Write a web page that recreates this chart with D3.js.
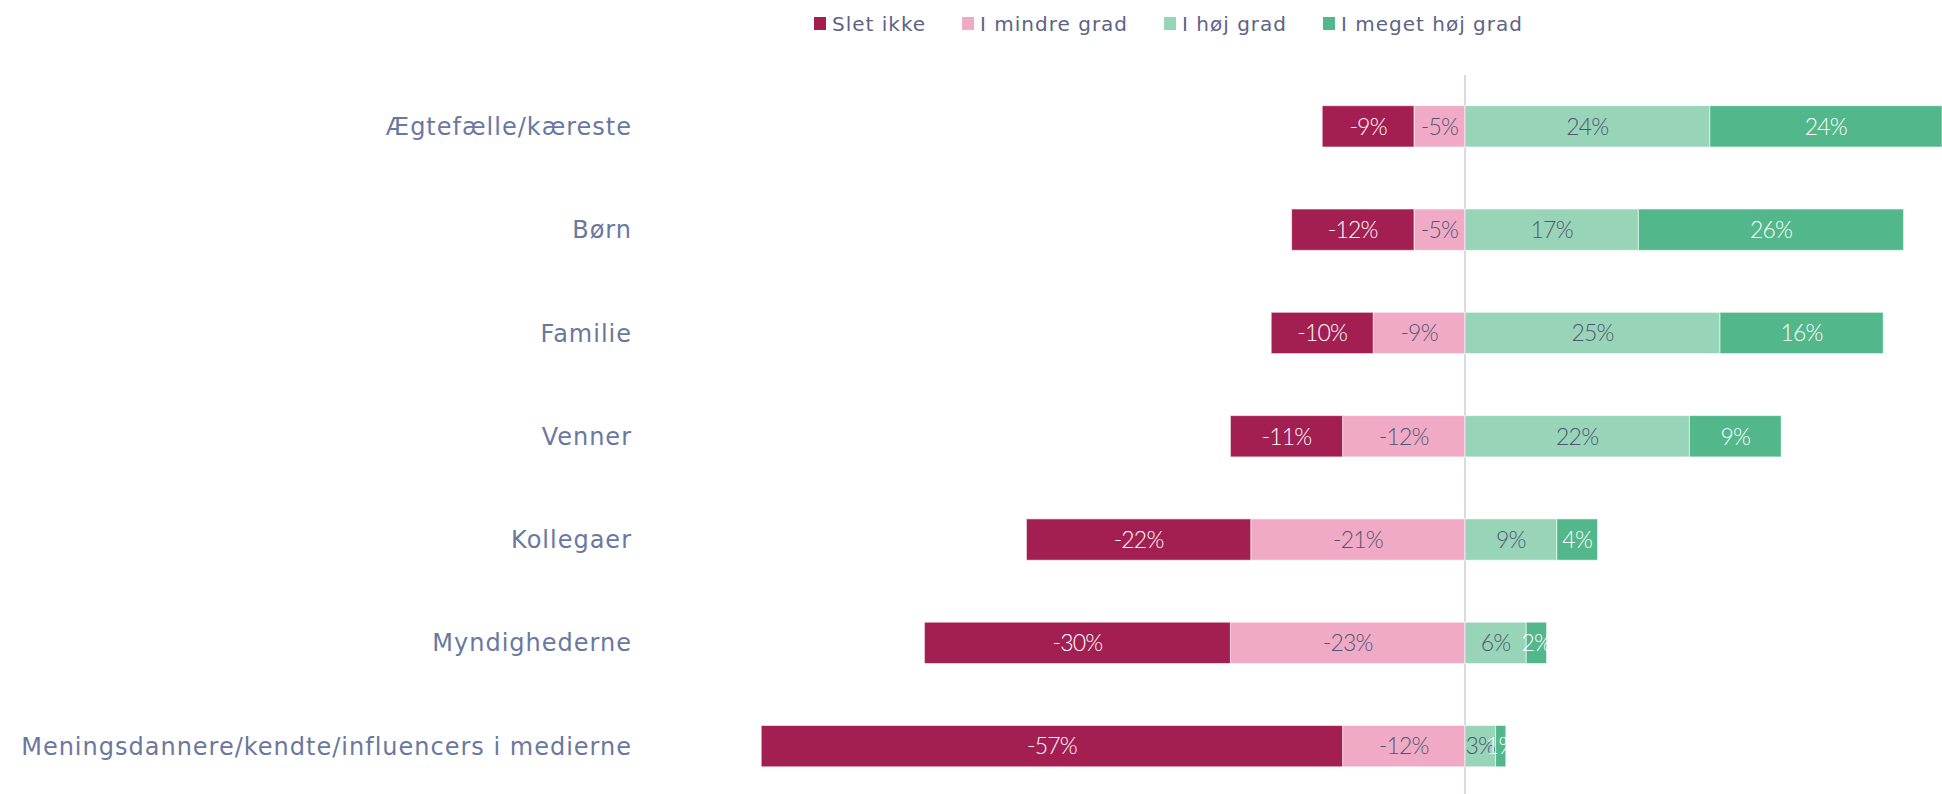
<!DOCTYPE html>
<html>
<head>
<meta charset="utf-8">
<script src="https://cdn.jsdelivr.net/npm/d3@7"></script>
<style>
  html, body { margin: 0; padding: 0; background: #ffffff; }
  svg { display: block; }
</style>
</head>
<body>
<svg id="chart" width="1942" height="794"></svg>
<script>
// Diverging stacked bars: share of answers per group, negatives to the left of zero
const categories = [
  "Ægtefælle/kæreste",
  "Børn",
  "Familie",
  "Venner",
  "Kollegaer",
  "Myndighederne",
  "Meningsdannere/kendte/influencers i medierne"
];
const sletIkke      = [-9, -12, -10, -11, -22, -30, -57];
const iMindreGrad   = [-5,  -5,  -9, -12, -21, -23, -12];
const iHoejGrad     = [24,  17,  25,  22,   9,   6,   3];
const iMegetHoejGrad= [24,  26,  16,   9,   4,   2,   1];

const seriesNames = ["Slet ikke", "I mindre grad", "I høj grad", "I meget høj grad"];
const seriesColors = ["#A31F52", "#F0AAC6", "#98D4B8", "#52B78A"];
const labelColors  = ["#ffffff", "#505672", "#505672", "#ffffff"];

const W = 1942, H = 794;
const svg = d3.select("#chart");

const x = d3.scaleLinear().domain([-60, 40]).range([853, 1873]);
const y = d3.scaleBand().domain(categories).range([74.7, 797.8])
  .paddingInner(0.6).paddingOuter(0.3);

// zero line
svg.append("line")
  .attr("x1", x(0)).attr("x2", x(0))
  .attr("y1", 75).attr("y2", H)
  .attr("stroke", "#D9DAE8").attr("stroke-width", 2);

// build segments: negatives stacked outward from zero (mindre grad first), positives likewise
const segments = [];
categories.forEach((c, i) => {
  const neg = [[1, iMindreGrad[i]], [0, sletIkke[i]]];
  let acc = 0;
  neg.forEach(([s, v]) => { segments.push({c, s, v, x0: acc + v, x1: acc}); acc += v; });
  const pos = [[2, iHoejGrad[i]], [3, iMegetHoejGrad[i]]];
  acc = 0;
  pos.forEach(([s, v]) => { segments.push({c, s, v, x0: acc, x1: acc + v}); acc += v; });
});

const g = svg.append("g");
g.selectAll("rect").data(segments).join("rect")
  .attr("x", d => x(d.x0))
  .attr("y", d => y(d.c))
  .attr("width", d => Math.min(x(d.x1), W) - x(d.x0))
  .attr("height", y.bandwidth())
  .attr("fill", d => seriesColors[d.s])
  .attr("stroke", "#ffffff").attr("stroke-opacity", 0.6).attr("stroke-width", 1);

g.selectAll("text.val").data(segments).join("text")
  .attr("class", "val")
  .attr("x", d => (x(d.x0) + Math.min(x(d.x1), W)) / 2)
  .attr("y", d => y(d.c) + y.bandwidth() / 2)
  .attr("dy", "0.36em")
  .attr("text-anchor", "middle")
  .attr("fill", d => labelColors[d.s])
  .style("font-family", "Lato, sans-serif")
  .style("font-weight", 300)
  .style("font-size", "23px")
  .style("letter-spacing", "-0.8px")
  .text(d => d.v + "%");

// category labels
svg.append("g").selectAll("text").data(categories).join("text")
  .attr("x", 632)
  .attr("y", d => y(d) + y.bandwidth() / 2)
  .attr("dy", "0.36em")
  .attr("text-anchor", "end")
  .attr("fill", "#6A789F")
  .style("font-family", "'DejaVu Sans', sans-serif")
  .style("font-size", "24px")
  .style("letter-spacing", "1px")
  .text(d => d);

// legend
const legend = svg.append("g");
let lx = 814;
seriesNames.forEach((name, i) => {
  legend.append("rect")
    .attr("x", lx).attr("y", 17).attr("width", 12).attr("height", 13)
    .attr("fill", seriesColors[i]);
  const t = legend.append("text")
    .attr("x", lx + 18).attr("y", 23.5).attr("dy", "0.36em")
    .attr("fill", "#5C6484")
    .style("font-family", "'DejaVu Sans', sans-serif")
    .style("font-size", "20px")
    .style("letter-spacing", "1px")
    .text(name);
  lx += 18 + t.node().getComputedTextLength() + 36;
});
</script>
</body>
</html>
